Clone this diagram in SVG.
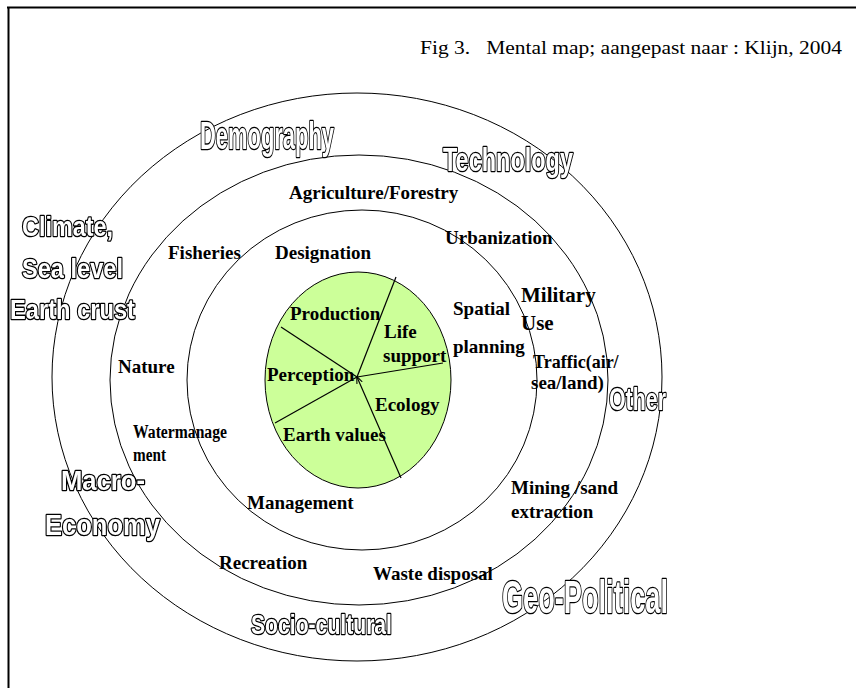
<svg xmlns="http://www.w3.org/2000/svg" width="856" height="688" viewBox="0 0 856 688">
<style>
.lbl{font-family:"Liberation Serif","Times New Roman",serif;font-weight:bold;font-size:19px;fill:#000}
.ttl{font-family:"Liberation Serif","Times New Roman",serif;font-size:19px;fill:#000}
.out{font-family:"Liberation Sans Narrow","Liberation Sans",Arial,sans-serif;font-weight:bold;fill:#fff;stroke:#000;stroke-width:2.6px;paint-order:stroke;stroke-linejoin:round}
.ring{fill:none;stroke:#000;stroke-width:1}
.div{stroke:#000;stroke-width:1.2;fill:none}
</style>
<defs>
<marker id="ah" viewBox="0 0 10 10" refX="9" refY="5" markerWidth="6" markerHeight="6" orient="auto">
<path d="M0,1 L10,5 L0,9" fill="none" stroke="#000" stroke-width="1.5"/>
</marker>
<filter id="gs" filterUnits="userSpaceOnUse" x="0" y="0" width="856" height="688">
<feOffset dx="0" dy="0"/>
</filter>
</defs>
<rect width="856" height="688" fill="#fff"/>
<g id="frame">
<line x1="7" y1="7.5" x2="856" y2="7.5" stroke="#000" stroke-width="2"/>
<line x1="8.5" y1="7" x2="8.5" y2="688" stroke="#000" stroke-width="2"/>
</g>
<text id="title" class="ttl" x="420" y="54" textLength="422" lengthAdjust="spacingAndGlyphs" xml:space="preserve">Fig 3.   Mental map; aangepast naar : Klijn, 2004</text>
<g id="rings">
<ellipse id="outer" class="ring" cx="357" cy="377" rx="305" ry="284"/>
<ellipse id="middle" class="ring" cx="359" cy="380" rx="249" ry="225"/>
<ellipse id="inner" class="ring" cx="362" cy="380" rx="175" ry="170"/>
</g>
<g id="core">
<ellipse cx="358" cy="380" rx="93" ry="108" fill="#ccff99" stroke="#000" stroke-width="1"/>
</g>
<g id="connectors">
<line class="div" x1="357" y1="377" x2="396" y2="277"/>
<line class="div" x1="281" y1="327" x2="357" y2="377"/>
<line class="div" x1="357" y1="377" x2="443" y2="363"/>
<line class="div" x1="275" y1="423" x2="357" y2="377"/>
<line class="div" x1="401" y1="478" x2="357" y2="377" marker-end="url(#ah)"/>
</g>
<g id="core-labels">
<text class="lbl" x="290" y="320">Production</text>
<text class="lbl" x="384" y="338">Life</text>
<text class="lbl" x="383" y="362">support</text>
<text class="lbl" x="267" y="381">Perception</text>
<text class="lbl" x="375" y="411">Ecology</text>
<text class="lbl" x="283" y="441">Earth values</text>
</g>
<g id="inner-labels">
<text class="lbl" x="275" y="259">Designation</text>
<text class="lbl" x="453" y="315">Spatial</text>
<text class="lbl" x="453" y="353">planning</text>
<text class="lbl" x="247" y="509">Management</text>
</g>
<g id="middle-labels">
<text class="lbl" x="289" y="199">Agriculture/Forestry</text>
<text class="lbl" x="445" y="244">Urbanization</text>
<text class="lbl" x="168" y="259">Fisheries</text>
<text class="lbl" x="521" y="302" style="font-size:21px">Military</text>
<text class="lbl" x="521" y="330" style="font-size:21px">Use</text>
<text class="lbl" x="533" y="368" style="font-size:18px">Traffic(air/</text>
<text class="lbl" x="531" y="389">sea/land)</text>
<text class="lbl" x="118" y="373">Nature</text>
<text class="lbl" x="133" y="438" style="font-size:18px" textLength="94" lengthAdjust="spacingAndGlyphs">Watermanage</text>
<text class="lbl" x="133" y="461" style="font-size:18px" textLength="33" lengthAdjust="spacingAndGlyphs">ment</text>
<text class="lbl" x="511" y="494">Mining /sand</text>
<text class="lbl" x="511" y="518">extraction</text>
<text class="lbl" x="219" y="569">Recreation</text>
<text class="lbl" x="373" y="580">Waste disposal</text>
</g>
<g id="outer-labels" filter="url(#gs)">
<text class="out" x="200" y="149" font-size="38" textLength="134" lengthAdjust="spacingAndGlyphs">Demography</text>
<text class="out" x="443" y="171" font-size="34" textLength="130" lengthAdjust="spacingAndGlyphs">Technology</text>
<text class="out" x="22" y="236" font-size="28" textLength="91" lengthAdjust="spacingAndGlyphs">Climate,</text>
<text class="out" x="22" y="278" font-size="28" textLength="101" lengthAdjust="spacingAndGlyphs">Sea level</text>
<text class="out" x="10" y="319" font-size="28" textLength="125" lengthAdjust="spacingAndGlyphs">Earth crust</text>
<text class="out" x="609" y="410" font-size="32" textLength="57" lengthAdjust="spacingAndGlyphs">Other</text>
<text class="out" x="61" y="490" font-size="28" textLength="84" lengthAdjust="spacingAndGlyphs">Macro-</text>
<text class="out" x="45" y="535" font-size="29" textLength="115" lengthAdjust="spacingAndGlyphs">Economy</text>
<text class="out" x="502" y="613" font-size="47" textLength="166" lengthAdjust="spacingAndGlyphs">Geo-Political</text>
<text class="out" x="251" y="634" font-size="28" textLength="141" lengthAdjust="spacingAndGlyphs">Socio-cultural</text>
</g>
</svg>
